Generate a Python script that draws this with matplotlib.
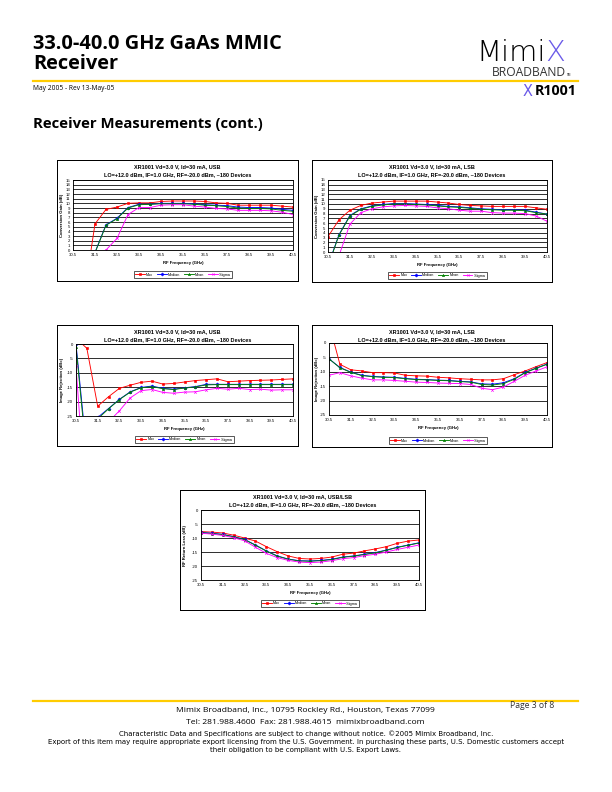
import matplotlib
matplotlib.use('Agg')
import matplotlib.pyplot as plt
from matplotlib.lines import Line2D

W, H = 612, 792

freq = [30.5, 31.0, 31.5, 32.0, 32.5, 33.0, 33.5, 34.0, 34.5, 35.0, 35.5,
        36.0, 36.5, 37.0, 37.5, 38.0, 38.5, 39.0, 39.5, 40.0, 40.5]
xticks = [30.5, 31.5, 32.5, 33.5, 34.5, 35.5, 36.5, 37.5, 38.5, 39.5, 40.5]

# conversion gain, USB
usb_gain_max = [-25, -10, 5.6, 8.7, 9.2, 10.0, 10.1, 10.1, 10.4, 10.5, 10.5,
                10.5, 10.4, 10.1, 10.0, 9.6, 9.6, 9.6, 9.6, 9.4, 9.2]
usb_gain_median = [-30, -15, -0.5, 5.4, 6.8, 9.1, 9.8, 9.8, 10.0, 10.0, 10.0,
                   9.9, 9.7, 9.6, 9.5, 9.2, 9.1, 9.1, 9.0, 8.7, 8.5]
usb_gain_mean = [-30, -15, -0.6, 5.3, 6.7, 9.0, 9.7, 9.8, 9.9, 9.9, 9.9,
                 9.8, 9.6, 9.5, 9.3, 9.0, 8.9, 8.9, 8.8, 8.5, 8.3]
usb_gain_sigma = [-30, -20, -8, 0.0, 2.5, 7.6, 9.1, 9.1, 9.6, 9.7, 9.7,
                  9.4, 9.2, 8.9, 8.8, 8.5, 8.5, 8.5, 8.4, 8.1, 7.6]

# conversion gain, LSB
lsb_gain_max = [3.2, 6.7, 8.7, 9.7, 10.2, 10.4, 10.6, 10.6, 10.6, 10.6, 10.4,
                10.2, 9.9, 9.7, 9.6, 9.5, 9.5, 9.5, 9.5, 9.2, 8.9]
lsb_gain_median = [-2.9, 3.6, 7.6, 9.0, 9.6, 9.9, 10.1, 10.1, 10.0, 9.9, 9.7,
                   9.5, 9.4, 9.2, 9.0, 8.9, 8.8, 8.8, 8.7, 8.3, 7.9]
lsb_gain_mean = [-3.0, 3.5, 7.5, 8.9, 9.5, 9.8, 10.0, 10.0, 9.9, 9.8, 9.6,
                 9.4, 9.3, 9.1, 8.9, 8.8, 8.7, 8.7, 8.6, 8.2, 7.9]
lsb_gain_sigma = [-8, -0.8, 5.8, 8.2, 9.0, 9.4, 9.6, 9.7, 9.6, 9.5, 9.2,
                  9.0, 8.7, 8.5, 8.5, 8.2, 8.1, 8.1, 8.0, 7.5, 6.4]

# image rejection, USB
usb_ir_max = [2, -1.5, -21.6, -18.3, -15.4, -14.3, -13.3, -12.9, -13.9, -13.7, -13.2,
              -12.7, -12.4, -12.1, -13.1, -12.9, -12.7, -12.6, -12.5, -12.3, -12.1]
usb_ir_median = [0, -38, -25.5, -22.4, -19.2, -16.6, -15.1, -14.6, -15.4, -15.7, -15.2,
                 -14.8, -14.0, -14.0, -14.0, -14.0, -14.0, -14.0, -14.0, -14.0, -14.0]
usb_ir_mean = [-1, -40, -26, -22.5, -19.3, -16.7, -15.2, -14.8, -15.5, -15.8, -15.3,
               -14.9, -14.2, -14.1, -14.1, -14.1, -14.1, -14.1, -14.1, -14.1, -14.1]
usb_ir_sigma = [-7.8, -60, -45, -27, -23.2, -18.7, -16.2, -15.8, -16.8, -17.1, -16.7,
                -16.6, -15.9, -15.4, -15.7, -15.4, -15.8, -15.7, -16.0, -15.9, -15.9]

# image rejection, LSB
lsb_ir_max = [6.8, -7.4, -9.3, -9.7, -10.3, -10.3, -10.4, -11.2, -11.4, -11.5, -11.9,
              -12.1, -12.4, -12.6, -12.8, -12.8, -12.4, -11.0, -9.7, -8.2, -6.8]
lsb_ir_median = [-5.5, -8.5, -10.1, -11.2, -11.6, -11.8, -11.9, -12.3, -12.6, -12.7, -12.9,
                 -13.0, -13.3, -13.5, -14.2, -14.3, -13.8, -12.4, -10.2, -8.7, -7.3]
lsb_ir_mean = [-5.5, -8.6, -10.2, -11.3, -11.7, -11.9, -12.0, -12.4, -12.7, -12.8, -13.0,
               -13.1, -13.4, -13.6, -14.4, -14.6, -14.1, -12.6, -10.3, -8.8, -7.4]
lsb_ir_sigma = [-11.2, -10.3, -11.4, -12.2, -12.8, -12.8, -13.0, -13.3, -13.6, -13.7, -13.9,
                -14.0, -14.1, -14.4, -15.7, -16.2, -15.3, -13.3, -11.2, -9.7, -8.3]

# RF return loss
rl_max = [-7.7, -7.9, -8.2, -9.0, -10.0, -11.1, -13.1, -14.9, -16.4, -17.3, -17.5,
          -17.3, -16.8, -15.8, -15.4, -14.6, -13.9, -13.1, -11.9, -11.1, -10.7]
rl_median = [-8.0, -8.3, -8.7, -9.5, -10.5, -12.5, -14.6, -16.4, -17.5, -18.1, -18.2,
             -18.0, -17.6, -16.8, -16.4, -15.8, -15.2, -14.3, -13.3, -12.5, -11.7]
rl_mean = [-8.1, -8.4, -8.8, -9.6, -10.6, -12.6, -14.7, -16.5, -17.6, -18.2, -18.3,
           -18.1, -17.7, -16.9, -16.5, -15.9, -15.3, -14.4, -13.4, -12.6, -11.8]
rl_sigma = [-8.3, -8.6, -9.1, -9.9, -11.0, -13.3, -15.5, -17.0, -18.0, -18.6, -18.8,
            -18.6, -18.1, -17.4, -17.0, -16.3, -15.8, -15.0, -14.1, -13.3, -12.5]

series_names = ['Max', 'Median', 'Mean', '-Sigma']
series_colors = ['#ff0000', '#0000ff', '#008000', '#ff00ff']
series_markers = ['s', 'D', '^', 'x']

subtitle = 'LO=+12.0 dBm, IF=1.0 GHz, RF=-20.0 dBm, ~180 Devices'
CHART_FONT = 'Liberation Sans'
PAGE_FONT = 'Open Sans'
SMALL_FONT = 'DejaVu Sans'
PURPLE = '#6a5ae8'

fig = plt.figure(figsize=(W / 72, H / 72), dpi=72)
renderer = fig.canvas.get_renderer()


def rect(x0, y0, x1, y1):
    return [x0 / W, 1 - y1 / H, (x1 - x0) / W, (y1 - y0) / H]


def ptext(x, y, s, **kw):
    return fig.text(x / W, 1 - y / H, s, **kw)


def fit_text(x, y, s, width, **kw):
    # scale the font so the text spans the given width in page pixels
    t = ptext(x, y, s, **kw)
    w = t.get_window_extent(renderer).width
    t.set_fontsize(t.get_fontsize() * width / w)
    return t


def draw_chart(box, plot, title, ylabel, data, ylim, yticks):
    bx = fig.add_axes(rect(*box))
    bx.set_xticks([])
    bx.set_yticks([])
    for sp in bx.spines.values():
        sp.set_linewidth(1.0)
    bx.set_zorder(0)

    ax = fig.add_axes(rect(*plot))
    ax.set_zorder(1)
    for vals, c, m, n in zip(data, series_colors, series_markers, series_names):
        ax.plot(freq, vals, color=c, lw=0.9, marker=m, ms=2.2 if m != 'x' else 2.6,
                mew=0.6, label=n, clip_on=True)
    ax.set_xlim(30.5, 40.5)
    ax.set_ylim(*ylim)
    ax.set_xticks(xticks)
    ax.set_xticklabels([f'{v:.1f}' for v in xticks])
    ax.set_yticks(yticks)
    ax.set_yticklabels([f'{v:g}' for v in yticks])
    ax.tick_params(length=0, labelsize=4.2, pad=3)
    for lab in ax.get_xticklabels() + ax.get_yticklabels():
        lab.set_family(CHART_FONT)
    ax.grid(axis='y', color='black', lw=0.8)
    ax.set_axisbelow(True)
    for sp in ax.spines.values():
        sp.set_linewidth(0.9)

    cx = (box[0] + box[2]) / 2
    ptext(cx, box[1] + 7, title, ha='center', va='center', fontsize=5.5,
          fontweight='bold', family=CHART_FONT)
    ptext(cx, box[1] + 15, subtitle, ha='center', va='center', fontsize=5.5,
          fontweight='bold', family=CHART_FONT)
    px = (plot[0] + plot[2]) / 2
    ptext(px, plot[3] + 13, 'RF Frequency (GHz)', ha='center', va='center',
          fontsize=4.2, fontweight='bold', family=CHART_FONT)
    ptext(box[0] + 5, (plot[1] + plot[3]) / 2, ylabel, ha='center', va='center',
          rotation=90, fontsize=4.2, fontweight='bold', family=CHART_FONT)

    handles = [Line2D([], [], color=c, lw=0.9, marker=m, ms=2.2, mew=0.6)
               for c, m in zip(series_colors, series_markers)]
    leg = fig.legend(handles, series_names, loc='center',
                     bbox_to_anchor=(px / W, 1 - (box[3] - 6.5) / H),
                     ncol=4, frameon=True, fancybox=False,
                     handlelength=2.6, handletextpad=0.3, columnspacing=1.0,
                     borderpad=0.3, prop={'family': CHART_FONT, 'size': 3.8})
    leg.get_frame().set_edgecolor('black')
    leg.get_frame().set_linewidth(0.8)


gain_ticks = list(range(0, 16))
rej_ticks = [0, -5, -10, -15, -20, -25]

draw_chart((57, 160, 298, 281), (73, 180, 293, 250),
           'XR1001 Vd=3.0 V, Id=30 mA, USB', 'Conversion Gain (dB)',
           [usb_gain_max, usb_gain_median, usb_gain_mean, usb_gain_sigma],
           (0, 15), gain_ticks)
draw_chart((312, 160, 552, 282), (328, 180, 547, 252),
           'XR1001 Vd=3.0 V, Id=30 mA, LSB', 'Conversion Gain (dB)',
           [lsb_gain_max, lsb_gain_median, lsb_gain_mean, lsb_gain_sigma],
           (0, 15), gain_ticks)
draw_chart((57, 325, 298, 446), (76, 344, 293, 416),
           'XR1001 Vd=3.0 V, Id=30 mA, USB', 'Image Rejection (dBc)',
           [usb_ir_max, usb_ir_median, usb_ir_mean, usb_ir_sigma],
           (-25, 0), rej_ticks)
draw_chart((312, 325, 552, 447), (329, 343, 547, 415),
           'XR1001 Vd=3.0 V, Id=30 mA, LSB', 'Image Rejection (dBc)',
           [lsb_ir_max, lsb_ir_median, lsb_ir_mean, lsb_ir_sigma],
           (-25, 0), rej_ticks)
draw_chart((180, 490, 425, 610), (201, 510, 419, 580),
           'XR1001 Vd=3.0 V, Id=30 mA, USB/LSB', 'RF Return Loss (dB)',
           [rl_max, rl_median, rl_mean, rl_sigma],
           (-25, 0), rej_ticks)

# page header
t = fit_text(33, 44, '33.0-40.0 GHz GaAs MMIC', 250, fontsize=15,
             fontweight='bold', family=PAGE_FONT, va='center')
ptext(33, 64, 'Receiver', fontsize=t.get_fontsize(), fontweight='bold',
      family=PAGE_FONT, va='center')
fit_text(33, 88, 'May 2005 - Rev 13-May-05', 80, fontsize=6,
         family=PAGE_FONT, va='center')
fit_text(33, 124, 'Receiver Measurements (cont.)', 229, fontsize=11,
         fontweight='bold', family=PAGE_FONT, va='center')

line_ax = fig.add_axes([0, 0, 1, 1], facecolor='none')
line_ax.set_xlim(0, W)
line_ax.set_ylim(H, 0)
line_ax.axis('off')
line_ax.plot([33, 578], [81, 81], color='#ffcc00', lw=2.2)
line_ax.plot([33, 578], [701, 701], color='#ffcc00', lw=2.2)

# logo
mimi = ptext(476, 61, 'Mimi', fontsize=29, family='DejaVu Sans',
             fontweight='light', va='baseline')
mx = mimi.get_window_extent(renderer).x1
fig.text(mx / W, 1 - 61 / H, 'X', fontsize=29, family='DejaVu Sans',
         fontweight='light', color=PURPLE, va='baseline')
fit_text(492, 76, 'BROADBAND', 74, fontsize=8, family=PAGE_FONT,
         va='baseline', color='#333333')
ptext(567, 76, 'TM', fontsize=3, family=PAGE_FONT, ha='left', va='baseline')
fit_text(523, 91, 'X', 10, fontsize=10, family='DejaVu Sans', color=PURPLE,
         va='center')
fit_text(535, 91, 'R1001', 42, fontsize=10, family=PAGE_FONT,
         fontweight='bold', va='center')

# page footer
addr = fit_text(305, 710, 'Mimix Broadband, Inc., 10795 Rockley Rd., Houston, '
                'Texas 77099', 258, fontsize=7, family=PAGE_FONT, va='center',
                ha='center')
ptext(305, 722, 'Tel: 281.988.4600  Fax: 281.988.4615  mimixbroadband.com',
      fontsize=addr.get_fontsize(), family=PAGE_FONT, va='center', ha='center')
fit_text(510, 706, 'Page 3 of 8', 44, fontsize=5, family=PAGE_FONT,
         va='center', color='#333333')
exp = fit_text(306, 742, 'Export of this item may require appropriate export '
               'licensing from the U.S. Government. In purchasing these parts, '
               'U.S. Domestic customers accept', 519, fontsize=5.5,
               family=SMALL_FONT, va='center', ha='center')
ptext(306, 734, 'Characteristic Data and Specifications are subject to change '
      'without notice. \u00a92005 Mimix Broadband, Inc.',
      fontsize=exp.get_fontsize(), family=SMALL_FONT, va='center', ha='center')
ptext(306, 750, 'their obligation to be compliant with U.S. Export Laws.',
      fontsize=exp.get_fontsize(), family=SMALL_FONT, va='center', ha='center')

fig.savefig('out.png', dpi=72)
